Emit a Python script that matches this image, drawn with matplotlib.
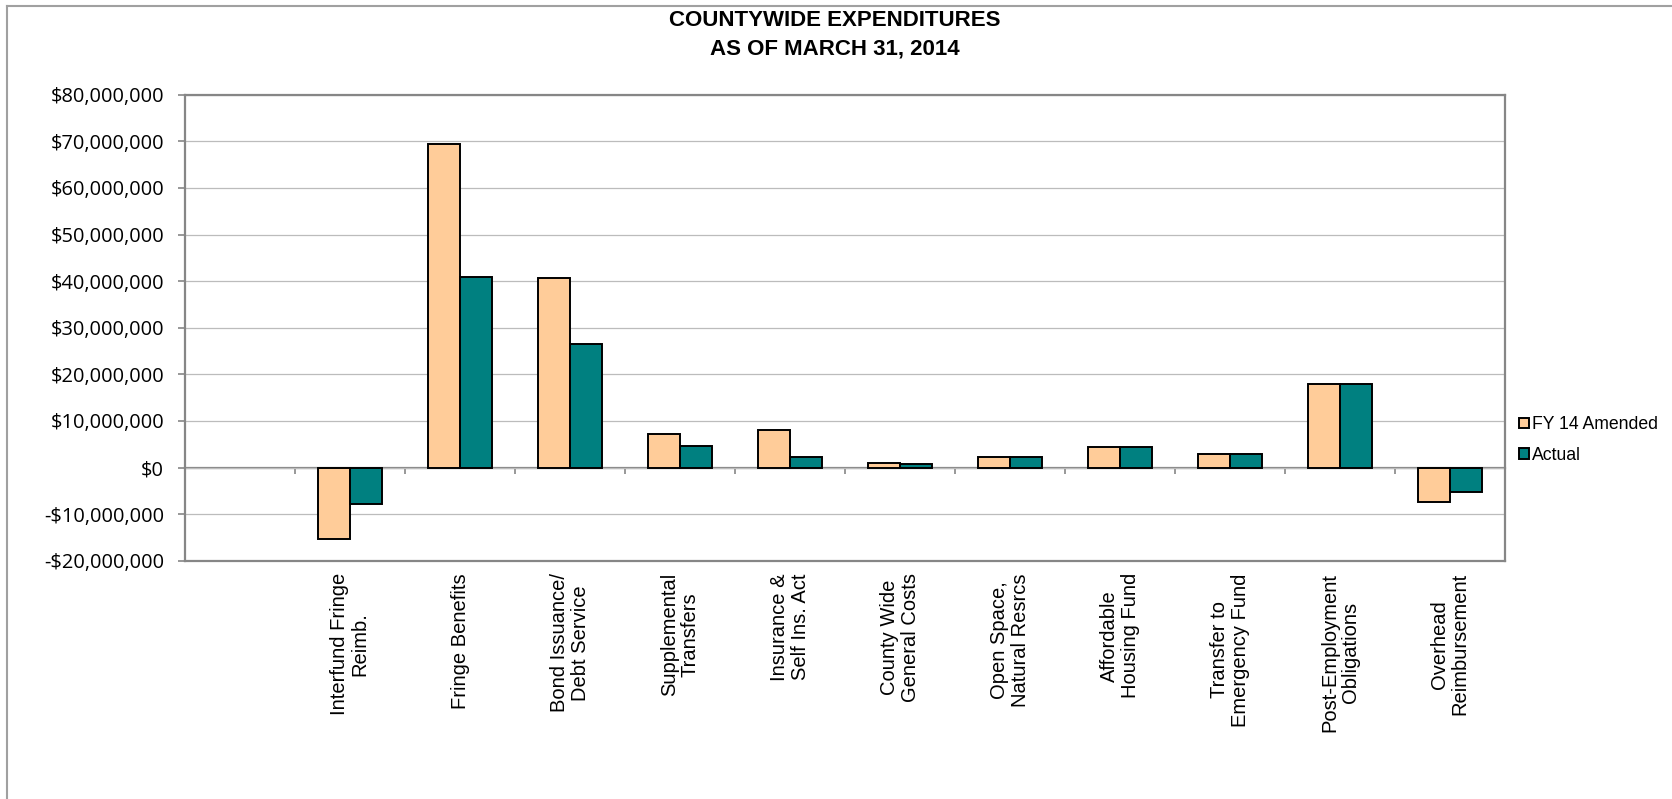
import numpy as np
import matplotlib.pyplot as plt
from matplotlib.patches import Patch
from matplotlib.lines import Line2D
from matplotlib.ticker import FuncFormatter

# data
categories = ['', 'Interfund Fringe\nReimb.', 'Fringe Benefits', 'Bond Issuance/\nDebt Service',
              'Supplemental\nTransfers', 'Insurance &\nSelf Ins. Act', 'County Wide\nGeneral Costs',
              'Open Space,\nNatural Resrcs', 'Affordable\nHousing Fund', 'Transfer to\nEmergency Fund',
              'Post-Employment\nObligations', 'Overhead\nReimbursement']
amended = [np.nan, -15.4e6, 69.4e6, 40.6e6, 7.1e6, 8.1e6, 1.0e6, 2.3e6, 4.4e6, 3.0e6, 18.0e6, -7.4e6]
actual = [np.nan, -7.9e6, 40.9e6, 26.4e6, 4.7e6, 2.3e6, 0.8e6, 2.3e6, 4.4e6, 3.0e6, 18.0e6, -5.3e6]
series_names = ['FY 14 Amended', 'Actual']
colors = ['#FFCC99', '#008080']

y_min, y_max, y_step = -20e6, 80e6, 10e6

W, H = 1672, 799
fig = plt.figure(figsize=(W / 100, H / 100), dpi=100)

# plot area in pixels: x 185..1505, y 94.7..560.7
ax = fig.add_axes([185 / W, 1 - 560.7 / H, (1505 - 185) / W, (560.7 - 94.7) / H])

x = np.arange(len(categories))
bw = 0.29
ax.bar(x - bw / 2, amended, bw, color=colors[0], edgecolor='black', linewidth=1.4, zorder=3)
ax.bar(x + bw / 2, actual, bw, color=colors[1], edgecolor='black', linewidth=1.4, zorder=3)

ax.set_xlim(-0.5, len(categories) - 0.5)
ax.set_ylim(y_min, y_max)
ax.set_yticks(np.arange(y_min, y_max + 1, y_step))


def money(v, pos):
    v = int(round(v))
    if v < 0:
        return '-${:,}'.format(-v)
    return '${:,}'.format(v)


ax.yaxis.set_major_formatter(FuncFormatter(money))
ax.yaxis.grid(True, color='#bcbcbc', linewidth=0.9, zorder=0)
ax.set_axisbelow(True)

axis_gray = '#868686'
for s in ax.spines.values():
    s.set_color(axis_gray)
    s.set_linewidth(1.6)

ax.tick_params(axis='y', length=5, width=1.2, color=axis_gray, pad=10,
               labelsize=14.4, labelfontfamily='Open Sans')
ax.set_xticks(x)
ax.set_xticklabels(categories, rotation=90, ha='center', va='top', multialignment='center',
                   fontsize=14.5, fontfamily='Liberation Sans', linespacing=1.1)
ax.tick_params(axis='x', length=0, pad=9)

# category axis drawn at zero, with tick marks between the groups
zero_pos = (0 - y_min) / (y_max - y_min)
sec = ax.secondary_xaxis(zero_pos)
sec.set_xticks(x[:-1] + 0.5)
sec.tick_params(axis='x', length=4.5, width=1.2, color=axis_gray, labelbottom=False, labeltop=False)
for s in sec.spines.values():
    s.set_color(axis_gray)
    s.set_linewidth(1.6)

# title
fig.text(835 / W, 1 - 21 / H, 'COUNTYWIDE EXPENDITURES', ha='center', va='center',
         fontsize=16, fontweight='bold', fontfamily='Liberation Sans')
fig.text(835 / W, 1 - 49 / H, 'AS OF MARCH 31, 2014', ha='center', va='center',
         fontsize=16, fontweight='bold', fontfamily='Liberation Sans')

# legend
handles = [Patch(facecolor=c, edgecolor='black', linewidth=1.4, label=n)
           for c, n in zip(colors, series_names)]
fig.legend(handles=handles, loc='center left', bbox_to_anchor=(1512 / W, 1 - 440 / H),
           frameon=False, handlelength=0.55, handleheight=0.55, handletextpad=0.2,
           labelspacing=0.75, borderaxespad=0, prop={'family': 'Liberation Sans', 'size': 12.7})

# chart area border (top and left visible)
fig.add_artist(Line2D([7 / W, 1], [1 - 6 / H, 1 - 6 / H], color='#a0a0a0', linewidth=1.5))
fig.add_artist(Line2D([7 / W, 7 / W], [0, 1 - 6 / H], color='#a0a0a0', linewidth=1.5))

fig.savefig('out.png', dpi=100)
